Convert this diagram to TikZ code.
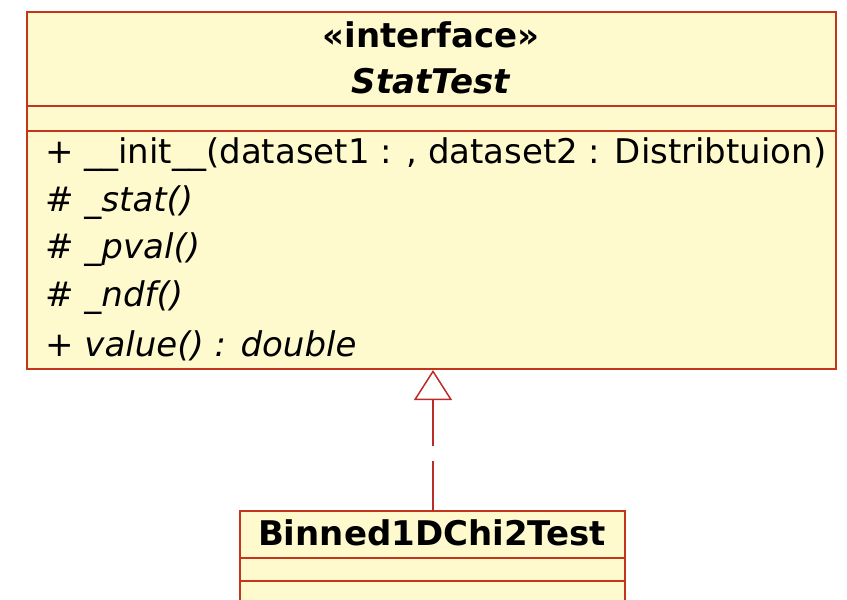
\documentclass[tikz,border=0pt]{standalone}
\usepackage{fontspec}
\setmainfont{DejaVu Sans}
\usetikzlibrary{arrows.meta}

\definecolor{umlred}{RGB}{196,54,28}
\definecolor{umlline}{RGB}{186,44,40}
\definecolor{umlfill}{RGB}{255,250,205}

\tikzset{
  classbox/.style={draw=umlred, fill=umlfill, line width=2pt, inner sep=0pt},
  sepline/.style={draw=umlred, line width=1.8pt},
  optext/.style={anchor=west, inner sep=0pt, font=\fontsize{34}{40}\selectfont},
  headtext/.style={inner sep=0pt, font=\fontsize{34}{40}\selectfont\bfseries},
  realize/.style={draw=umlline, line width=1.5pt, dash pattern=on 46pt off 15pt on 200pt off 0pt,
    {Triangle[open, width=38pt, length=30pt, line width=1.5pt]}-}
}

\begin{document}
\begin{tikzpicture}[x=1pt, y=-1pt]

  \useasboundingbox (0,0) rectangle (847,600);
  \clip (0,0) rectangle (847,600);

  % ── Interfaz StatTest ─────────────────────────────────────
  \node[classbox, minimum width=809pt, minimum height=357pt] (stattest) at (431.5,190.5) {};
  \draw[sepline] (27,106) -- (836,106);
  \draw[sepline] (27,131) -- (836,131);
  \node[headtext] (stereo) at (431,35) {«interface»};
  \node[headtext, font=\fontsize{34}{40}\selectfont\bfseries\itshape] (sname) at (431,81) {StatTest};

  \node[optext] (opinit) at (45,155) {+ \_\_init\_\_(dataset1 : , dataset2 : Distribtuion)};
  \node[optext] (opstat) at (45,203) {\# \textit{\_stat()}};
  \node[optext] (oppval) at (45,250) {\# \textit{\_pval()}};
  \node[optext] (opndf)  at (45,298) {\# \textit{\_ndf()}};
  \node[optext] (opval)  at (45,346) {+ \textit{value() : double}};

  % ── Clase Binned1DChi2Test ────────────────────────────────
  \node[classbox, minimum width=385pt, minimum height=140pt] (binned) at (432.5,581) {};
  \draw[sepline] (240,558) -- (625,558);
  \draw[sepline] (240,581) -- (625,581);
  \node[headtext] (bname) at (432,533) {Binned1DChi2Test};

  % ── Realización ───────────────────────────────────────────
  \coordinate (rhead) at (433,370);
  \coordinate (rfoot) at (433,511);
  \draw[realize] (rhead) -- (rfoot);

\end{tikzpicture}
\end{document}
